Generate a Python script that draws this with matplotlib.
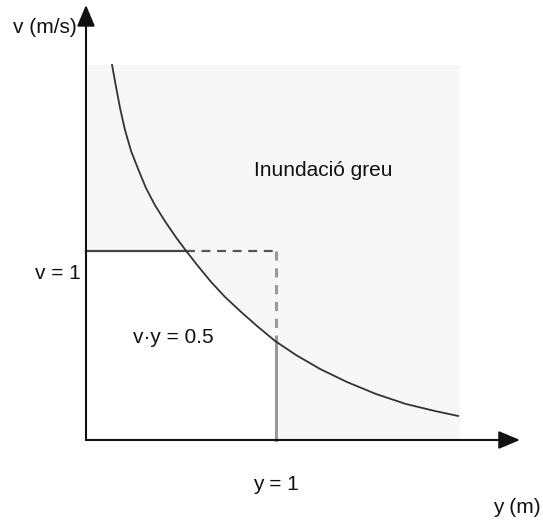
import numpy as np
import matplotlib.pyplot as plt
from matplotlib.patches import Rectangle, Polygon

plt.rcParams['font.family'] = ['Liberation Sans', 'DejaVu Sans']

# curve: depth y (m) and velocity v (m/s)
curve_y = [0.137, 0.158, 0.179, 0.205, 0.237, 0.274, 0.316, 0.363, 0.416,
           0.474, 0.526, 0.589, 0.658, 0.732, 0.811, 0.900, 0.995, 1.105,
           1.232, 1.374, 1.526, 1.684, 1.837, 1.958]
curve_v = [1.981, 1.865, 1.754, 1.638, 1.527, 1.432, 1.330, 1.240, 1.155,
           1.070, 1.000, 0.919, 0.835, 0.755, 0.681, 0.602, 0.523, 0.449,
           0.375, 0.306, 0.243, 0.190, 0.153, 0.127]

y_ref = 1.0
v_ref = 1.0
zone_y = (0.01, 1.968)
zone_v = (0.0, 1.981)
axis_tip_y = 2.284
axis_tip_v = 2.298

cy = np.array(curve_y)
cv = np.array(curve_v)

fig = plt.figure(figsize=(5.43, 5.20), dpi=100)
ax = fig.add_axes([0, 0, 1, 1])
ax.set_xlim(-0.4526, 2.405)
ax.set_ylim(-0.4226, 2.324)
ax.axis('off')

# shaded zone
ax.add_patch(Rectangle((zone_y[0], zone_v[0]), zone_y[1] - zone_y[0], zone_v[1] - zone_v[0],
                       facecolor='#f7f7f7', edgecolor='none', zorder=0))

# white area under the curve inside the y=1, v=1 box
y_cross = np.interp(v_ref, cv[::-1], cy[::-1])
v_cross = np.interp(y_ref, cy, cv)
inside = (cy > y_cross) & (cy < y_ref)
pts = [(0, 0), (0, v_ref), (y_cross, v_ref)]
pts += list(zip(cy[inside], cv[inside]))
pts += [(y_ref, v_cross), (y_ref, 0)]
ax.add_patch(Polygon(pts, closed=True, facecolor='white', edgecolor='none', zorder=1))

# reference lines
ax.plot([0, y_cross], [v_ref, v_ref], color='#444444', lw=1.6, zorder=2)
ax.plot([y_cross, y_ref], [v_ref, v_ref], color='#555555', lw=1.6, ls=(0, (4, 3)), zorder=2)
ax.plot([y_ref, y_ref], [v_ref, v_cross], color='#999999', lw=2.2, ls=(0, (3, 2.5)), zorder=2)
ax.plot([y_ref, y_ref], [v_cross, 0], color='#999999', lw=2.2, zorder=2)

# curve
ax.plot(cy, cv, color='#333333', lw=1.3, zorder=3, solid_joinstyle='round')

# axes with arrows
arrow = dict(arrowstyle='-|>,head_length=1.0,head_width=0.42', color='#111111',
             lw=1.5, shrinkA=0, shrinkB=0, mutation_scale=13)
ax.annotate('', xy=(0, axis_tip_v), xytext=(0, 0), arrowprops=arrow, zorder=4)
ax.annotate('', xy=(axis_tip_y, 0), xytext=(0, 0), arrowprops=arrow, zorder=4)

fs = 15
ax.text(-0.385, 2.181, 'v (m/s)', fontsize=fs, ha='left', va='center', color='#111111')
ax.text(-0.026, 0.877, 'v = 1', fontsize=fs, ha='right', va='center', color='#111111')
ax.text(0.458, 0.539, 'v·y = 0.5', fontsize=fs, ha='center', va='center', color='#111111')
ax.text(1.247, 1.426, 'Inundació greu', fontsize=fs, ha='center', va='center', color='#111111')
ax.text(y_ref, -0.233, 'y = 1', fontsize=fs, ha='center', va='center', color='#111111')
ax.text(2.268, -0.354, 'y (m)', fontsize=fs, ha='center', va='center', color='#111111')

fig.savefig('out.png', dpi=100)
